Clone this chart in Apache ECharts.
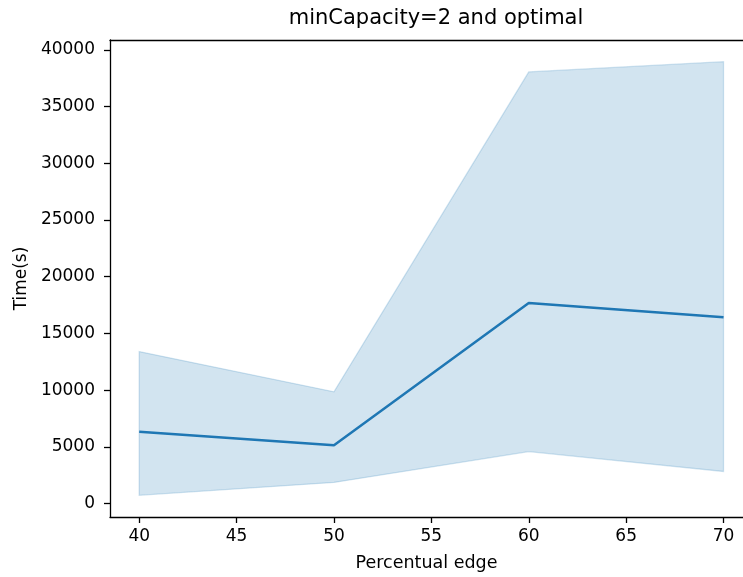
<!DOCTYPE html>
<html>
<head>
<meta charset="utf-8">
<title>minCapacity=2 and optimal</title>
<script src="https://cdn.jsdelivr.net/npm/echarts@6/dist/echarts.min.js"></script>
<style>
  html, body { margin: 0; padding: 0; background: #fff; }
  #chart { width: 743px; height: 577px; }
</style>
</head>
<body>
<div id="chart"></div>
<script>
// values
const edges = [40, 50, 60, 70];
const meanTime = [6340, 5150, 17690, 16430];
const lowerTime = [730, 1870, 4590, 2830];
const upperTime = [13400, 9850, 38050, 38950];

const xTicks = [40, 45, 50, 55, 60, 65, 70];
const yTicks = [0, 5000, 10000, 15000, 20000, 25000, 30000, 35000, 40000];

const blue = '#1f77b4';
const bandColor = 'rgba(31,119,180,0.2)';
const font = 'DejaVu Sans';

const chart = echarts.init(document.getElementById('chart'));

const option = {
  animation: false,
  textStyle: { fontFamily: font },
  title: {
    text: 'minCapacity=2 and optimal',
    left: 431,
    top: 3,
    textAlign: 'center',
    textStyle: { fontFamily: font, fontSize: 21, fontWeight: 'normal', color: '#000' }
  },
  grid: {
    left: 110,
    right: 0,
    top: 40,
    bottom: 59
  },
  xAxis: [
    {
      type: 'value',
      min: 38.5,
      max: 71.0,
      name: 'Percentual edge',
      nameLocation: 'middle',
      nameGap: 37,
      nameTextStyle: { fontFamily: font, fontSize: 17.5, color: '#000' },
      splitLine: { show: false },
      axisLine: { show: true, onZero: false, lineStyle: { color: '#000', width: 1.3 } },
      axisTick: {
        show: true,
        length: 6,
        lineStyle: { color: '#000', width: 1.3 },
        customValues: xTicks
      },
      axisLabel: {
        fontFamily: font,
        fontSize: 17,
        color: '#000',
        margin: 11,
        customValues: xTicks,
        formatter: v => String(v)
      }
    },
    {
      // top spine only
      type: 'value',
      position: 'top',
      min: 38.5,
      max: 71.0,
      splitLine: { show: false },
      axisLine: { show: true, onZero: false, lineStyle: { color: '#000', width: 1.3 } },
      axisTick: { show: false },
      axisLabel: { show: false }
    }
  ],
  yAxis: {
    type: 'value',
    min: -1180,
    max: 40860,
    name: 'Time(s)',
    nameLocation: 'middle',
    nameGap: 79,
    nameTextStyle: { fontFamily: font, fontSize: 17, color: '#000' },
    splitLine: { show: false },
    axisLine: { show: true, onZero: false, lineStyle: { color: '#000', width: 1.3 } },
    axisTick: {
      show: true,
      length: 6,
      lineStyle: { color: '#000', width: 1.3 },
      customValues: yTicks
    },
    axisLabel: {
      fontFamily: font,
      fontSize: 17,
      color: '#000',
      margin: 15,
      customValues: yTicks,
      formatter: v => String(v)
    }
  },
  series: [
    {
      name: 'band',
      type: 'custom',
      silent: true,
      z: 1,
      data: edges.map((x, i) => [x, lowerTime[i], upperTime[i]]),
      encode: { x: 0, y: [1, 2] },
      renderItem: (params, api) => {
        if (params.dataIndex !== 0) return;
        const top = edges.map((x, i) => api.coord([x, upperTime[i]]));
        const bottom = edges.map((x, i) => api.coord([x, lowerTime[i]])).reverse();
        return {
          type: 'polygon',
          shape: { points: top.concat(bottom) },
          style: { fill: bandColor, stroke: bandColor, lineWidth: 1.3 }
        };
      }
    },
    {
      name: 'mean',
      type: 'line',
      z: 3,
      symbol: 'none',
      data: edges.map((x, i) => [x, meanTime[i]]),
      lineStyle: { color: blue, width: 2.5 },
      itemStyle: { color: blue }
    }
  ]
};

chart.setOption(option);
</script>
</body>
</html>
